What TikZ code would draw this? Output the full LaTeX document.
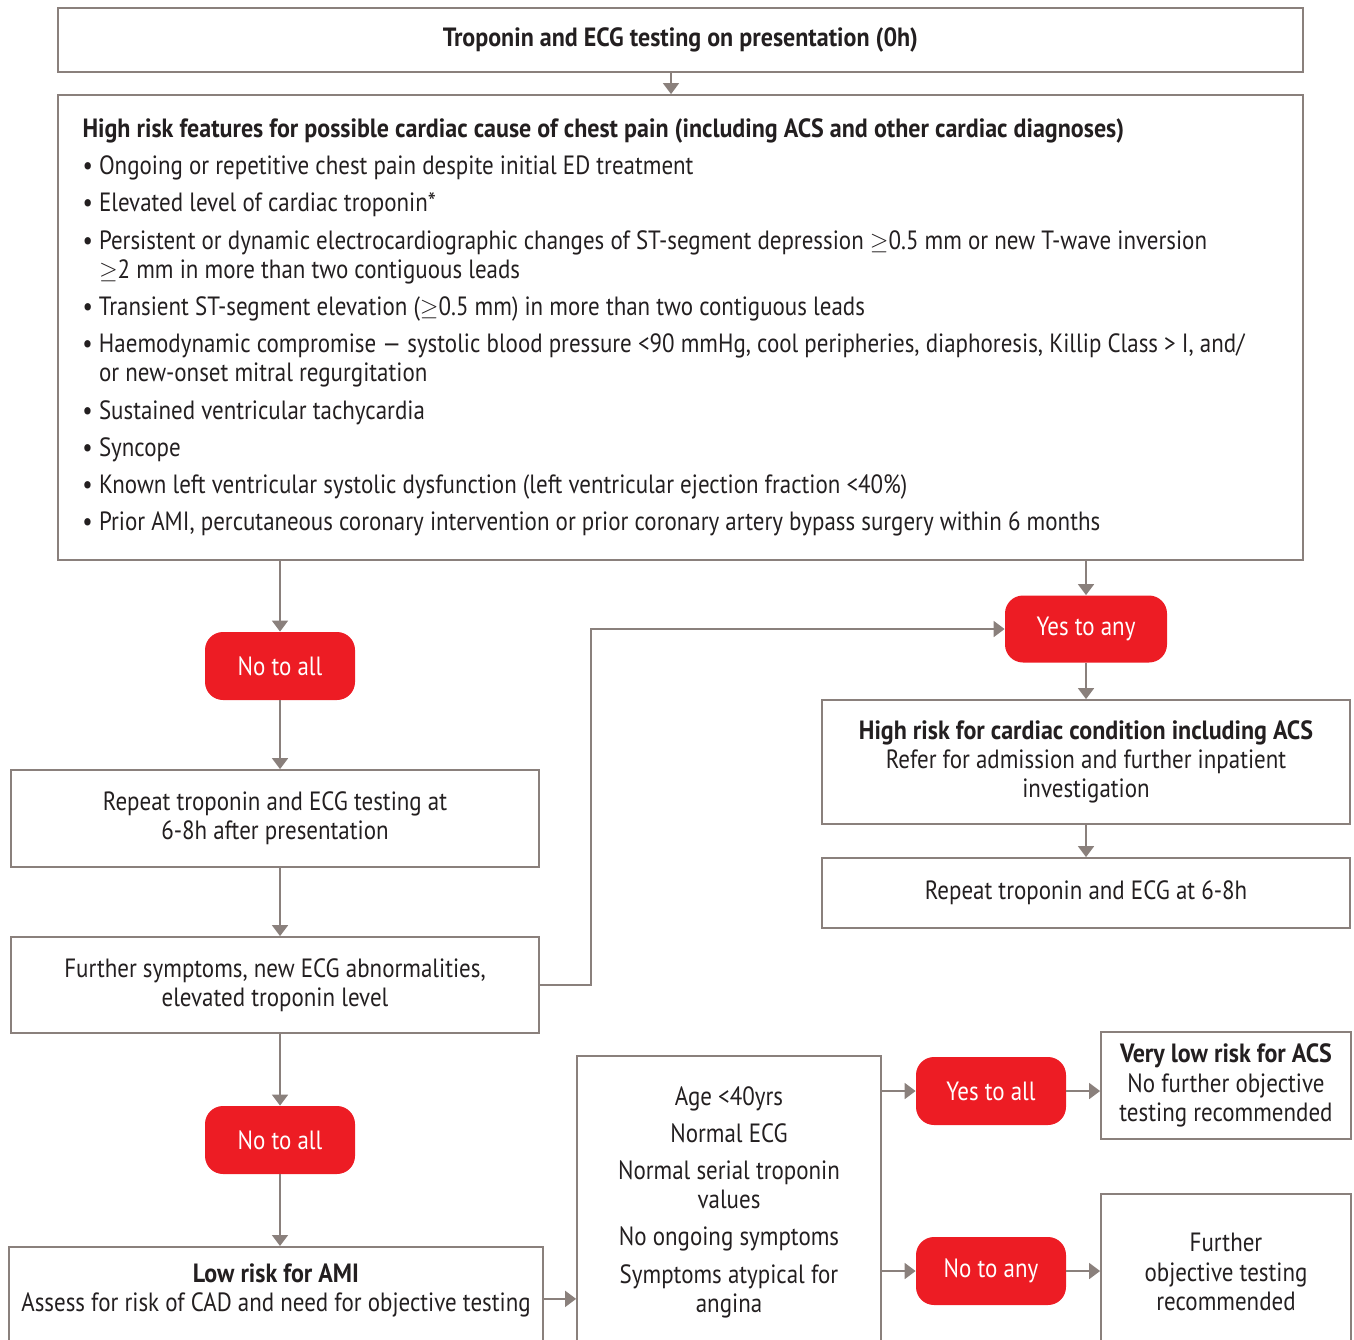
\documentclass[tikz,border=0pt]{standalone}
\usepackage{fontspec}
\setmainfont{PT Sans}[FakeStretch=0.87, BoldFeatures={FakeStretch=0.91}]
\usepackage{tikz}
\usetikzlibrary{arrows.meta}

\definecolor{linegray}{RGB}{138,128,124}
\definecolor{answerred}{RGB}{237,28,36}
\definecolor{textblack}{RGB}{35,31,32}

\newcommand{\bul}{\textbullet\ }
\newcommand{\hang}{\hphantom{\textbullet\ }}
\newcommand{\atleast}{$\geq$}

\begin{document}
\begin{tikzpicture}[x=0.5pt, y=-0.5pt, font=\fontsize{13.2}{14.6}\selectfont, text=textblack,
  box/.style={draw=linegray, line width=0.9pt, align=center, inner sep=0pt},
  answer/.style={fill=answerred, rounded corners=9pt, text=white, align=center, minimum width=75pt, minimum height=34pt, inner sep=0pt, font=\fontsize{13.2}{15}\selectfont},
  flow/.style={draw=linegray, line width=0.9pt, -{Triangle[width=8pt,length=5.5pt]}}]

\useasboundingbox (0,0) rectangle (1354,1339);
\clip (0,0) rectangle (1354,1339);

% top of the chart
\node[box, minimum width=622.5pt, minimum height=32pt] (start) at (680.5,40) {\textbf{Troponin and ECG testing on presentation (0h)}};

\node[box, minimum width=622.5pt, minimum height=232.5pt, text width=598pt, align=flush left] (features) at (680.5,327.5) {%
\textbf{High risk features for possible cardiac cause of chest pain (including ACS and other cardiac diagnoses)}\\[4pt]
\bul Ongoing or repetitive chest pain despite initial ED treatment\\[4pt]
\bul Elevated level of cardiac troponin*\\[4pt]
\bul Persistent or dynamic electrocardiographic changes of ST-segment depression \atleast0.5 mm or new T-wave inversion\\
\hang \atleast2 mm in more than two contiguous leads\\[4pt]
\bul Transient ST-segment elevation (\atleast0.5 mm) in more than two contiguous leads\\[4pt]
\bul Haemodynamic compromise — systolic blood pressure <90 mmHg, cool peripheries, diaphoresis, Killip Class > I, and/\\
\hang or new-onset mitral regurgitation\\[4pt]
\bul Sustained ventricular tachycardia\\[4pt]
\bul Syncope\\[4pt]
\bul Known left ventricular systolic dysfunction (left ventricular ejection fraction <40\%)\\[4pt]
\bul Prior AMI, percutaneous coronary intervention or prior coronary artery bypass surgery within 6 months};

% left branch
\node[answer] (noall1) at (280,666) {No to all};
\node[box, minimum width=264pt, minimum height=48.5pt] (repeat) at (275,818.5) {Repeat troponin and ECG testing at\\6-8h after presentation};
\node[box, minimum width=264pt, minimum height=48pt] (symptoms) at (275,985) {Further symptoms, new ECG abnormalities,\\elevated troponin level};
\node[answer] (noall2) at (280,1140) {No to all};
\node[box, anchor=north, minimum width=267pt, inner ysep=8.5pt, text depth=11pt] (lowrisk) at (276,1246) {\textbf{Low risk for AMI}\\Assess for risk of CAD and need for objective testing};

% right branch
\node[answer, minimum width=81pt, minimum height=33.5pt] (yesany) at (1086,629) {Yes to any};
\node[box, minimum width=264pt, minimum height=62pt] (highrisk) at (1086,762) {\textbf{High risk for cardiac condition including ACS}\\Refer for admission and further inpatient\\investigation};
\node[box, minimum width=264pt, minimum height=35pt] (repeatecg) at (1086,893) {Repeat troponin and ECG at 6-8h};

% bottom criteria
\node[box, minimum width=152pt, minimum height=146pt] (criteria) at (729,1202) {Age <40yrs\\[4pt]Normal ECG\\[4pt]Normal serial troponin\\values\\[4pt]No ongoing symptoms\\[4pt]Symptoms atypical for\\angina};
\node[answer] (yesall) at (991,1091) {Yes to all};
\node[answer] (noany) at (991,1271) {No to any};
\node[box, minimum width=125pt, minimum height=53.5pt] (verylow) at (1226,1085.5) {\textbf{Very low risk for ACS}\\No further objective\\testing recommended};
\node[box, minimum width=125pt, minimum height=78pt] (furthertest) at (1226,1272) {Further\\objective testing\\recommended};

% connectors
\draw[flow] ([xshift=-4.75pt]start.south) -- ([xshift=-4.75pt]features.north);
\draw[flow] (features.south -| noall1) -- (noall1);
\draw[flow] (features.south -| yesany) -- (yesany);
\draw[flow] (noall1) -- (noall1 |- repeat.north);
\draw[flow] (repeat.south -| noall1) -- (noall1 |- symptoms.north);
\draw[flow] (symptoms.east) -- ++(51,0) |- (yesany.west);
\draw[flow] (yesany) -- (highrisk);
\draw[flow] (highrisk) -- (repeatecg);
\draw[flow] (symptoms.south -| noall2) -- (noall2);
\draw[flow] (noall2) -- (noall2 |- lowrisk.north);
\draw[flow] (lowrisk.east) -- (lowrisk.east -| criteria.west);
\draw[flow] (criteria.east |- yesall) -- (yesall);
\draw[flow] (criteria.east |- noany) -- (noany);
\draw[flow] (yesall) -- (yesall -| verylow.west);
\draw[flow] (noany) -- (noany -| furthertest.west);

\end{tikzpicture}
\end{document}
